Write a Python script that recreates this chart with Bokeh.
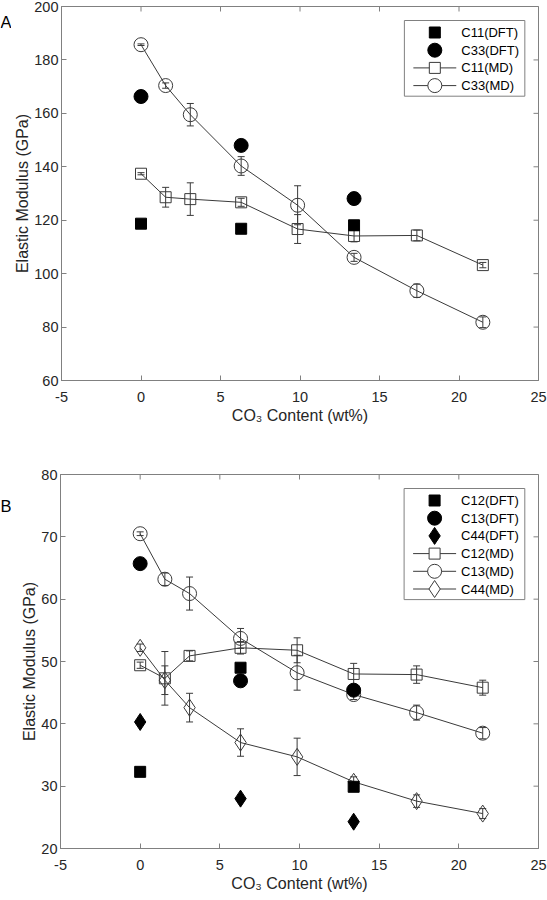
import math
from bokeh.plotting import figure
from bokeh.models import (Range1d, FixedTicker, Whisker, TeeHead, ColumnDataSource, Label)
from bokeh.core.properties import value
from bokeh.layouts import column, row
from bokeh.embed import file_html
from bokeh.resources import INLINE

# ---------------- data ----------------
co3_md = [0, 1.55, 3.1, 6.3, 9.85, 13.4, 17.35, 21.5]
co3_dft = [0, 6.3, 13.4]

# panel A
c11_dft = [118.7, 116.8, 118.1]
c33_dft = [166.3, 148.0, 128.1]
c11_md = [137.4, 128.6, 127.9, 126.7, 116.7, 114.1, 114.3, 103.2]
c11_md_err = [0.4, 3.7, 6.1, 1.5, 5.4, 2.2, 2.0, 1.0]
c33_md = [185.7, 170.4, 159.5, 140.3, 125.6, 106.1, 93.6, 81.8]
c33_md_err = [0.3, 1.0, 4.2, 3.5, 7.3, 1.5, 2.5, 2.0]

# panel B
c12_dft = [32.3, 49.0, 29.9]
c13_dft = [65.7, 46.9, 45.4]
c44_dft = [40.3, 28.0, 24.3]
c12_md = [49.4, 47.3, 50.9, 52.2, 51.8, 48.0, 47.9, 45.8]
c12_md_err = [0.5, 4.3, 0.8, 1.0, 2.0, 1.7, 1.4, 1.2]
c13_md = [70.5, 63.2, 60.9, 53.7, 48.2, 44.7, 41.8, 38.5]
c13_md_err = [0.3, 1.0, 2.65, 1.6, 2.8, 0.8, 1.2, 0.9]
c44_md = [52.2, 47.0, 42.6, 37.0, 34.7, 30.7, 27.6, 25.6]
c44_md_err = [0.6, 2.3, 2.3, 2.2, 3.0, 0.8, 1.0, 0.8]

x_ticks = [-5, 0, 5, 10, 15, 20, 25]
y_ticks_a = [60, 80, 100, 120, 140, 160, 180, 200]
y_ticks_b = [20, 30, 40, 50, 60, 70, 80]
x_tick_labels = {-5: "-5"}
x_label = "CO\u2083 Content (wt%)"
y_label = "Elastic Modulus (GPa)"

# ---------------- style ----------------
FONT = "Liberation Sans"
AX = "#808080"
TXT = "#262626"
LINE = "#3a3a3a"
PAGE_W = 547
LETTER_W = 11
FIG_W = PAGE_W - LETTER_W
BL, BR = 49, 9
X0, X1 = -5, 25


def letter_strip(letter, height, baseline_from_top):
    s = figure(width=LETTER_W, height=height, x_range=Range1d(0, LETTER_W),
               y_range=Range1d(0, height), output_backend="svg",
               toolbar_location=None, x_axis_location=None,
               y_axis_location=None, min_border=0)
    s.grid.visible = False
    s.outline_line_color = None
    s.border_fill_color = "white"
    s.background_fill_color = "white"
    s.add_layout(Label(x=0, y=height - baseline_from_top, text=letter,
                       text_font=FONT, text_font_size="16.5px",
                       text_color="black", text_baseline="alphabetic",
                       text_align="left"))
    return s


def make_panel(height, b_top, b_bottom, y_min, y_max, y_ticks, md_series,
               dft_series):
    fw = FIG_W - BL - BR
    fh = height - b_top - b_bottom
    p = figure(width=FIG_W, height=height, x_range=Range1d(X0, X1),
               y_range=Range1d(y_min, y_max), output_backend="svg",
               toolbar_location=None, min_border_left=BL, min_border_right=BR,
               min_border_top=b_top, min_border_bottom=b_bottom)
    p.extra_x_ranges = {"px": Range1d(0, fw)}
    p.extra_y_ranges = {"px": Range1d(0, fh)}
    p.grid.visible = False
    p.outline_line_color = AX
    p.outline_line_width = 1
    p.background_fill_color = "white"
    p.border_fill_color = "white"

    p.xaxis.axis_label = x_label
    p.yaxis.axis_label = y_label
    for ax in p.xaxis + p.yaxis:
        ax.major_tick_in = 5
        ax.major_tick_out = 0
        ax.minor_tick_line_color = None
        ax.axis_line_color = AX
        ax.major_tick_line_color = AX
        ax.major_label_text_font = FONT
        ax.major_label_text_color = TXT
        ax.major_label_text_font_size = "14.5px"
        ax.axis_label_text_font = FONT
        ax.axis_label_text_color = TXT
        ax.axis_label_text_font_style = "normal"
        ax.axis_label_text_font_size = "16px"
    p.xaxis.ticker = FixedTicker(ticks=x_ticks)
    p.yaxis.ticker = FixedTicker(ticks=y_ticks)
    p.xaxis.major_label_overrides = x_tick_labels
    p.xaxis.major_label_standoff = 11
    p.yaxis.major_label_standoff = 3
    p.xaxis.axis_label_standoff = 2
    p.yaxis.axis_label_standoff = 0

    # inward tick marks on the top and right frame edges
    p.scatter(x_ticks, [y_max] * len(x_ticks), marker="dash", angle=math.pi / 2,
              size=10, line_color=AX, line_width=1)
    p.scatter([X1] * len(y_ticks), y_ticks, marker="dash", size=10,
              line_color=AX, line_width=1)

    # MD series: error bars, lines, open markers
    for label, vals, errs, marker, size in md_series:
        src = ColumnDataSource(dict(x=co3_md, y=vals,
                                    upper=[v + e for v, e in zip(vals, errs)],
                                    lower=[v - e for v, e in zip(vals, errs)]))
        p.add_layout(Whisker(base="x", upper="upper", lower="lower", source=src,
                             dimension="height", line_color=LINE, line_width=1,
                             upper_head=TeeHead(size=7, line_color=LINE, line_width=1),
                             lower_head=TeeHead(size=7, line_color=LINE, line_width=1)))
        p.line("x", "y", source=src, line_color=LINE, line_width=1)
        p.scatter("x", "y", source=src, marker=marker, size=size,
                  fill_alpha=0, line_color=LINE, line_width=1)

    # DFT series: filled markers
    for label, vals, marker, size in dft_series:
        p.scatter(co3_dft, vals, marker=marker, size=size,
                  fill_color="black", line_color="black")

    # ---- legend (laid out in frame pixels) ----
    entries = ([(lab, mk, sz, True) for lab, _, mk, sz in dft_series] +
               [(lab, mk, sz, False) for lab, _, _, mk, sz in md_series])
    n = len(entries)
    pitch = 17.7
    box_w = 120.7
    box_h = 12 + (n - 1) * pitch + 10.6
    box_right = fw - 13.7
    box_left = box_right - box_w
    box_top = fh - 14
    p.quad(left=[box_left], right=[box_right], top=[box_top],
           bottom=[box_top - box_h], fill_color="white", line_color=AX,
           line_width=1, x_range_name="px", y_range_name="px")
    rows_y = [box_top - 12 - i * pitch for i in range(n)]
    gx0, gx1 = box_left + 9, box_left + 52
    gxc = (gx0 + gx1) / 2
    md_rows = [y for y, e in zip(rows_y, entries) if not e[3]]
    p.segment(x0=[gx0] * len(md_rows), y0=md_rows, x1=[gx1] * len(md_rows),
              y1=md_rows, line_color=LINE, line_width=1,
              x_range_name="px", y_range_name="px")
    for (lab, mk, sz, filled), y in zip(entries, rows_y):
        if filled:
            p.scatter([gxc], [y], marker=mk, size=sz, fill_color="black",
                      line_color="black", x_range_name="px", y_range_name="px")
        else:
            p.scatter([gxc], [y], marker=mk, size=sz, fill_color="white",
                      line_color=LINE, line_width=1,
                      x_range_name="px", y_range_name="px")
    p.text(x=[box_left + 57] * n, y=rows_y, text=[e[0] for e in entries],
           text_font=value(FONT), text_font_size=value("13px"),
           text_color="black", text_baseline="middle", text_align="left",
           x_range_name="px", y_range_name="px")
    return p


pa = make_panel(450, 6, 70, 60, 200, y_ticks_a,
                [("C11(MD)", c11_md, c11_md_err, "square", 11),
                 ("C33(MD)", c33_md, c33_md_err, "circle", 14)],
                [("C11(DFT)", c11_dft, "square", 11),
                 ("C33(DFT)", c33_dft, "circle", 14)])

pb = make_panel(450, 24, 52, 20, 80, y_ticks_b,
                [("C12(MD)", c12_md, c12_md_err, "square", 11),
                 ("C13(MD)", c13_md, c13_md_err, "circle", 14),
                 ("C44(MD)", c44_md, c44_md_err, "diamond", 17)],
                [("C12(DFT)", c12_dft, "square", 11),
                 ("C13(DFT)", c13_dft, "circle", 14),
                 ("C44(DFT)", c44_dft, "diamond", 17)])

layout = column(row(letter_strip("A", 450, 19), pa, spacing=0),
                row(letter_strip("B", 450, 37.5), pb, spacing=0),
                spacing=0)
open("out.html", "w").write(file_html(layout, INLINE))
